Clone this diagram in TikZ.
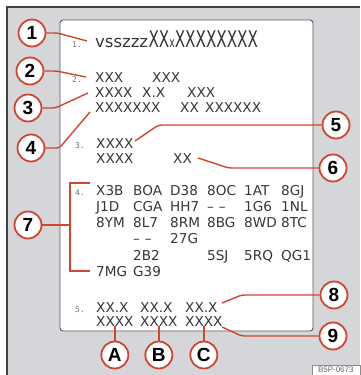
\documentclass[tikz,border=0pt]{standalone}
\usepackage{fontspec}
\setmainfont{Liberation Sans}
\newfontfamily\codefont{DejaVu Sans}
\newfontfamily\smallfont{DejaVu Sans Mono}
\usetikzlibrary{calc}
\definecolor{callred}{RGB}{208,70,45}
\definecolor{framegray}{RGB}{212,214,217}
\definecolor{inkgray}{RGB}{55,55,55}

\begin{document}
\begin{tikzpicture}[
  x=1pt, y=-1pt,
  callout/.style={circle, draw=callred, line width=1.8pt, fill=white, minimum size=27pt, inner sep=0pt, font=\fontsize{19}{19}\selectfont\bfseries},
  code/.style={anchor=base west, inner sep=0pt, text=inkgray, font=\codefont\fontsize{13.6}{13.6}\selectfont},
  num/.style={anchor=base west, inner sep=0pt, text=black!55, font=\smallfont\fontsize{8}{8}\selectfont},
  lead/.style={draw=callred, line width=1.4pt, rounded corners=3pt},
  panel/.style={draw=black!65, fill=white, line width=0.9pt, rounded corners=3pt}
]
\useasboundingbox (0,0) rectangle (360,375);

% frame
\fill[framegray] (7,7) rectangle (360,375);
\draw[black!75, line width=1.5pt] (7,375) -- (7,7) -- (360,7);
\draw[panel] (60,20) rectangle (313,331);

% block 1 and 2
\node[num]  (n1)  at (72,47) {1.};
\node[code, font=\codefont\fontsize{16.5}{16.5}\selectfont] (t1a) at (95,47) {vsszzz};
\node[anchor=base west, inner sep=0pt, text=inkgray] (t1b) at (t1a.base east)
  {\codefont\scalebox{0.66}[1]{\fontsize{23}{23}\selectfont XX{\fontsize{14}{14}\selectfont x}XXXXXXXX}};
\node[num]  (n2)  at (72,82) {2.};
\node[code] (t2a) at (95,82) {XXX};
\node[code] (t2b) at (152,82) {XXX};
\node[code] (t3a) at (95,97) {XXXX};
\node[code] (t3b) at (142,97) {X.X};
\node[code] (t3c) at (187,97) {XXX};
\node[code] (t4a) at (95,112) {XXXXXXX};
\node[code] (t4b) at (180,112) {XX};
\node[code] (t4c) at (205,112) {XXXXXX};

% block 3
\node[num]  (n3)  at (75,148) {3.};
\node[code] (t5a) at (96,148) {XXXX};
\node[code] (t6a) at (96,163) {XXXX};
\node[code] (t6b) at (173,163) {XX};

% block 4
\node[num]  (n4)  at (75,195) {4.};
\node[code] (g11) at (96,195) {X3B}; \node[code] (g12) at (133,195) {BOA}; \node[code] (g13) at (170,195) {D38};
\node[code] (g14) at (207,195) {8OC}; \node[code] (g15) at (244,195) {1AT}; \node[code] (g16) at (281,195) {8GJ};
\node[code] (g21) at (96,211) {J1D}; \node[code] (g22) at (133,211) {CGA}; \node[code] (g23) at (170,211) {HH7};
\node[code] (g24) at (207,211) {\textendash\hspace{5pt}\textendash}; \node[code] (g25) at (244,211) {1G6}; \node[code] (g26) at (281,211) {1NL};
\node[code] (g31) at (96,227) {8YM}; \node[code] (g32) at (133,227) {8L7}; \node[code] (g33) at (170,227) {8RM};
\node[code] (g34) at (207,227) {8BG}; \node[code] (g35) at (244,227) {8WD}; \node[code] (g36) at (281,227) {8TC};
\node[code] (g41) at (133,243) {\textendash\hspace{5pt}\textendash}; \node[code] (g43) at (170,243) {27G};
\node[code] (g52) at (133,260) {2B2}; \node[code] (g54) at (207,260) {5SJ};
\node[code] (g55) at (244,260) {5RQ}; \node[code] (g56) at (281,260) {QG1};
\node[code] (g61) at (96,276) {7MG}; \node[code] (g62) at (133,276) {G39};

% block 5
\node[num]  (n5)  at (75,312) {5.};
\node[code] (v1) at (96,312) {XX.X};
\node[code] (v2) at (140,312) {XX.X};
\node[code] (v3) at (185,312) {XX.X};
\node[code] (w1) at (96,326) {XXXX};
\node[code] (w2) at (140,326) {XXXX};
\node[code] (w3) at (185,326) {XXXX};

% callouts
\node[callout] (c1) at (32,33) {1};
\node[callout] (c2) at (30,71) {2};
\node[callout] (c3) at (28,108) {3};
\node[callout] (c4) at (31,148) {4};
\node[callout] (c5) at (336,125) {5};
\node[callout] (c6) at (333,168) {6};
\node[callout] (c7) at (28,225) {7};
\node[callout] (c8) at (334,295) {8};
\node[callout] (c9) at (333,336) {9};
\node[callout] (cA) at (w1.south |- 0,355) {A};
\node[callout] (cB) at (w2.south |- 0,355) {B};
\node[callout] (cC) at (w3.south |- 0,355) {C};

\coordinate (e1) at (87,41);
\coordinate (e2) at (86,77);
\coordinate (e3) at (88,93);
\coordinate (e4) at (90,112);
\coordinate (e5) at (135,141);
\coordinate (e6) at (198,158);
\coordinate (b7t) at (90,183);
\coordinate (b7m) at (70,225);
\coordinate (b7b) at (90,271);
\coordinate (e8) at (222,303);
\coordinate (e9) at (222,327);

\draw[lead] (c1.east) -- ++(11,0) -- (e1);
\draw[lead] (c2.east) -- ++(12,0) -- (e2);
\draw[lead] (c3.east) -- ++(13,0) -- (e3);
\draw[lead] (c4.east) -- ++(14,0) -- (e4);
\draw[lead] (c5.west) -- ++(-163,0) -- (e5);
\draw[lead] (c6.west) -- ++(-90,0) -- (e6);
\draw[lead] (c7.east) -- (b7m);
\draw[lead, rounded corners=0pt] (b7t) -- ++(-20,0) |- (b7b);
\draw[lead] (c8.west) -- ++(-78,0) -- (e8);
\draw[lead] (c9.west) -- ++(-77,0) -- (e9);
\draw[lead] (w1.south) -- (cA.north);
\draw[lead] (w2.south) -- (cB.north);
\draw[lead] (w3.south) -- (cC.north);

% image tag
\node[draw=black!45, fill=white, text=black!60, font=\fontsize{8}{8}\selectfont, inner sep=1pt, minimum width=48pt, minimum height=10pt, anchor=south east] (tag) at (360,375) {B5P-0673};
\end{tikzpicture}
\end{document}
